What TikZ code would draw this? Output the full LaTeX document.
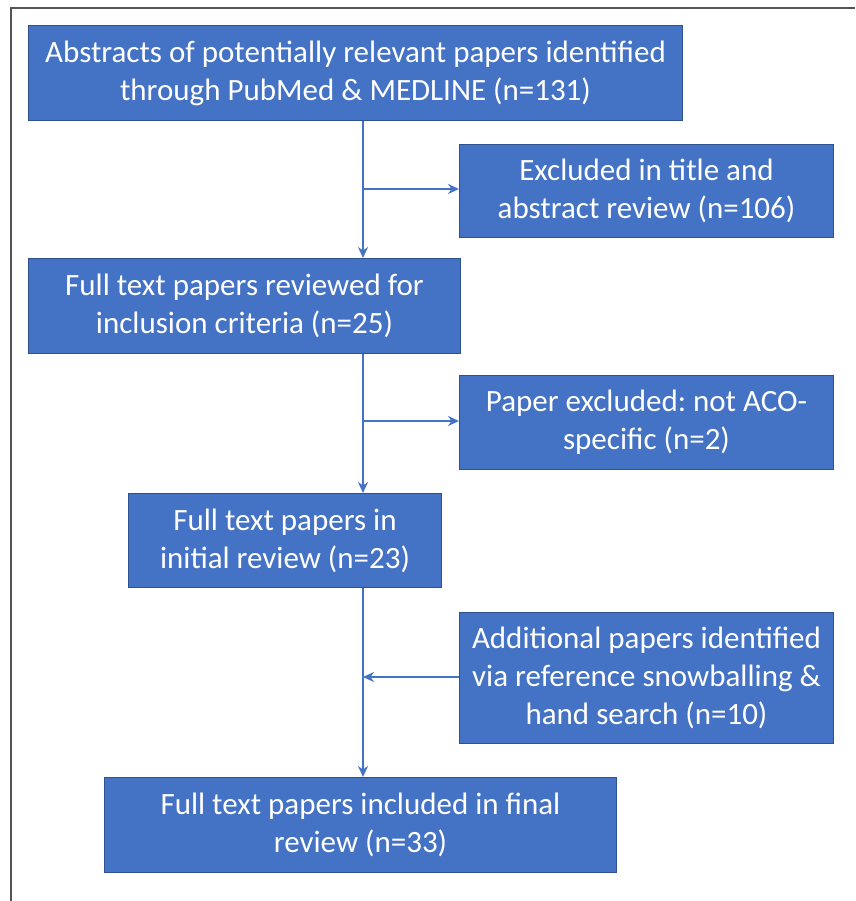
\documentclass[tikz,border=0pt]{standalone}
\usepackage{fontspec}
\setmainfont{Carlito}
\usetikzlibrary{arrows.meta}
\definecolor{boxblue}{HTML}{4472C4}
\definecolor{boxedge}{HTML}{2F528F}
\definecolor{framegray}{HTML}{555555}
\frenchspacing
\begin{document}
\begin{tikzpicture}[x=1pt,y=-1pt,
  fbox/.style={draw=boxedge,line width=1pt,fill=boxblue,text=white,align=center,
    font=\fontsize{31}{38}\selectfont,inner sep=0pt,anchor=north west},
  conn/.style={draw=boxblue,line width=2pt,-{Stealth[length=11pt,width=10pt]}}]
\useasboundingbox (0,0) rectangle (855,901);
\draw[framegray,line width=1.5pt] (11,901) -- (11,8) -- (855,8);
\node[fbox,minimum width=654pt,minimum height=95pt] (b1) at (28,25)
  {Abstracts of potentially relevant papers identified\\through PubMed \& MEDLINE (n=131)};
\node[fbox,minimum width=374pt,minimum height=93pt] (b2) at (459,144)
  {Excluded in title and\\abstract review (n=106)};
\node[fbox,minimum width=432pt,minimum height=95pt] (b3) at (28,258)
  {Full text papers reviewed for\\inclusion criteria (n=25)};
\node[fbox,minimum width=374pt,minimum height=94pt] (b4) at (459,375)
  {Paper excluded: not ACO-\\specific (n=2)};
\node[fbox,minimum width=313pt,minimum height=94pt] (b5) at (128,493)
  {Full text papers in\\initial review (n=23)};
\node[fbox,minimum width=374pt,minimum height=131pt] (b6) at (459,612)
  {Additional papers identified\\via reference snowballing \&\\hand search (n=10)};
\node[fbox,minimum width=512pt,minimum height=95pt] (b7) at (104,777)
  {Full text papers included in final\\review (n=33)};
\coordinate (c1) at (363,189);
\coordinate (c2) at (363,421);
\coordinate (c3) at (363,677);
\draw[conn] (b1.south -| c1) -- (b3.north -| c1);
\draw[conn] (c1) -- (c1 -| b2.west);
\draw[conn] (b3.south -| c2) -- (b5.north -| c2);
\draw[conn] (c2) -- (c2 -| b4.west);
\draw[conn] (b5.south -| c3) -- (b7.north -| c3);
\draw[conn] (c3 -| b6.west) -- (c3);
\end{tikzpicture}
\end{document}
